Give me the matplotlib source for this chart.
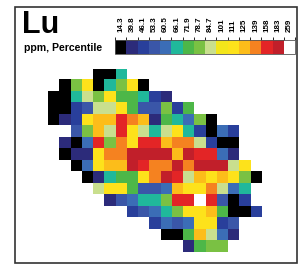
import matplotlib
matplotlib.use('Agg')
import matplotlib.pyplot as plt
import numpy as np
from matplotlib.colors import ListedColormap, BoundaryNorm
from matplotlib.cm import ScalarMappable
from matplotlib.patches import Rectangle

plt.rcParams['font.family'] = ['Liberation Sans', 'DejaVu Sans']

# percentile class breaks (ppm) shown on the legend
bin_labels = ['14.3', '39.8', '46.1', '53.3', '60.5', '66.1', '71.9', '78.7',
              '84.7', '101', '111', '125', '139', '158', '183', '259']
bin_colors = ['#000000', '#2c2b7a', '#293f9b', '#3a56a8', '#3b6db6', '#20b89b',
              '#4db748', '#7ac143', '#c9df8e', '#f3e61b', '#fde21b', '#fcbd1a',
              '#f58220', '#e32526', '#c11f2a', '#ffffff']

# class index per cell (hex digit), '.' = no sample
grid_rows = [
    "....005............",
    ".07a057a0..........",
    "00587a66521........",
    "002388a633726......",
    "012abbdcb165470....",
    "..37b8da858a52042..",
    ".104d7caddbcc8200..",
    ".011acceeeebedd41..",
    "..04abbedcceceee8a.",
    "...01566aced8baba70",
    "....8aa6334baac845.",
    ".....134557ddfd302.",
    ".......23457aab6002",
    ".........2434aa23..",
    "..........006b841..",
    "............1677...",
]

W, H = 298, 264
fig = plt.figure(figsize=(W / 100, H / 100), dpi=100)
fig.patch.set_facecolor('white')


def px_axes(x0, y0, x1, y1):
    return fig.add_axes([x0 / W, 1 - y1 / H, (x1 - x0) / W, (y1 - y0) / H])


cmap = ListedColormap(bin_colors)
norm = BoundaryNorm(np.arange(len(bin_colors) + 1), cmap.N)

# map grid
vals = np.array([[int(ch, 16) if ch != '.' else -1 for ch in row] for row in grid_rows],
                dtype=float)
vals = np.ma.masked_less(vals, 0)
ax = px_axes(47.7, 69.3, 260.9, 252.3)
ax.imshow(vals + 0.5, cmap=cmap, norm=norm, aspect='auto', interpolation='nearest')
ax.axis('off')

# legend colorbar
cax = px_axes(115, 40, 295, 54)
cb = fig.colorbar(ScalarMappable(norm=norm, cmap=cmap), cax=cax, orientation='horizontal')
cb.set_ticks(np.arange(len(bin_labels)) + 0.5)
cb.set_ticklabels(bin_labels)
cax.xaxis.set_ticks_position('top')
cax.tick_params(axis='x', length=0, pad=6, labelsize=5.8, rotation=90)
for t in cax.get_xticklabels():
    t.set_fontweight('bold')
cb.outline.set_linewidth(0.6)
cb.outline.set_edgecolor('#555555')

# titles
fig.text(22 / W, 1 - 33 / H, 'Lu', fontsize=22, fontweight='bold', va='baseline')
fig.text(23.5 / W, 1 - 51 / H, 'ppm, Percentile', fontsize=7.6, fontweight='bold',
         va='baseline')

# frame
fig.patches.append(Rectangle((15 / W, 1 - 262.5 / H), (297 - 15) / W, (262.5 - 7) / H,
                             transform=fig.transFigure, fill=False,
                             edgecolor='#333333', linewidth=1.2))

fig.savefig('out.png', dpi=100)
